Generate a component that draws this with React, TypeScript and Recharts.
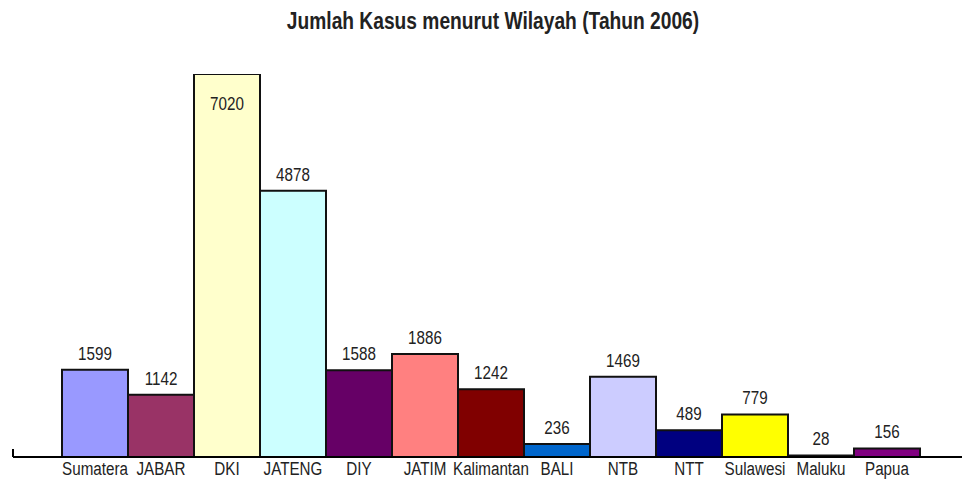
import { BarChart, Bar, XAxis, YAxis, Cell, LabelList } from 'recharts';

const categories = ['Sumatera', 'JABAR', 'DKI', 'JATENG', 'DIY', 'JATIM', 'Kalimantan', 'BALI', 'NTB', 'NTT', 'Sulawesi', 'Maluku', 'Papua'];
const cases = [1599, 1142, 7020, 4878, 1588, 1886, 1242, 236, 1469, 489, 779, 28, 156];
const barColors = ['#9999FF', '#993366', '#FFFFCC', '#CCFFFF', '#660066', '#FF8080', '#800000', '#0066CC', '#CCCCFF', '#000080', '#FFFF00', '#00FFFF', '#800080'];

const FONT = "'Liberation Sans', Arial, sans-serif";
const NARROW = 0.8; // no narrow font installed, so squeeze horizontally
const maxValue = Math.max(...cases);

const data = categories.map((name, i) => ({ name, value: cases[i] }));

const NarrowText = ({ x, y, size, children }: any) => (
  <text
    transform={`translate(${x},${y}) scale(${NARROW},1)`}
    textAnchor="middle"
    fontFamily={FONT}
    fontSize={size}
    fill="#222"
  >
    {children}
  </text>
);

const ValueLabel = (props: any) => {
  const { x, y, width, value } = props;
  // tallest bar hits the top of the plot, so its label sits inside
  const ty = value === maxValue ? y + 36 : y - 10;
  return (
    <NarrowText x={x + width / 2} y={ty} size={19}>
      {value}
    </NarrowText>
  );
};

const CategoryTick = ({ x, payload }: any) => (
  <NarrowText x={x} y={475} size={19}>
    {payload.value}
  </NarrowText>
);

export default function App() {
  return (
    <div style={{ position: 'absolute', left: 0, top: 0, width: 962, height: 479, background: '#fff' }}>
      <div
        style={{
          position: 'absolute',
          left: 0,
          width: 986,
          top: 7,
          textAlign: 'center',
          fontFamily: FONT,
          fontWeight: 'bold',
          fontSize: 24,
          color: '#222',
          transform: `scaleX(${NARROW})`,
          transformOrigin: '493px 0',
          whiteSpace: 'nowrap',
        }}
      >
        Jumlah Kasus menurut Wilayah (Tahun 2006)
      </div>
      {/* small tick at the left end of the axis */}
      <div style={{ position: 'absolute', left: 12, top: 449, width: 2, height: 8, background: '#000' }} />
      <BarChart
        width={962}
        height={479}
        data={data}
        margin={{ top: 74, right: 0, left: 13, bottom: 0 }}
        barCategoryGap={0}
      >
        <XAxis
          dataKey="name"
          height={22}
          padding={{ left: 49, right: 42 }}
          axisLine={{ stroke: '#000', strokeWidth: 2 }}
          tickLine={false}
          interval={0}
          tick={<CategoryTick />}
        />
        <YAxis hide domain={[0, maxValue]} allowDataOverflow />
        <Bar dataKey="value" stroke="#111" strokeWidth={2} isAnimationActive={false}>
          {data.map((d, i) => (
            <Cell key={d.name} fill={barColors[i]} />
          ))}
          <LabelList dataKey="value" content={<ValueLabel />} />
        </Bar>
      </BarChart>
    </div>
  );
}
